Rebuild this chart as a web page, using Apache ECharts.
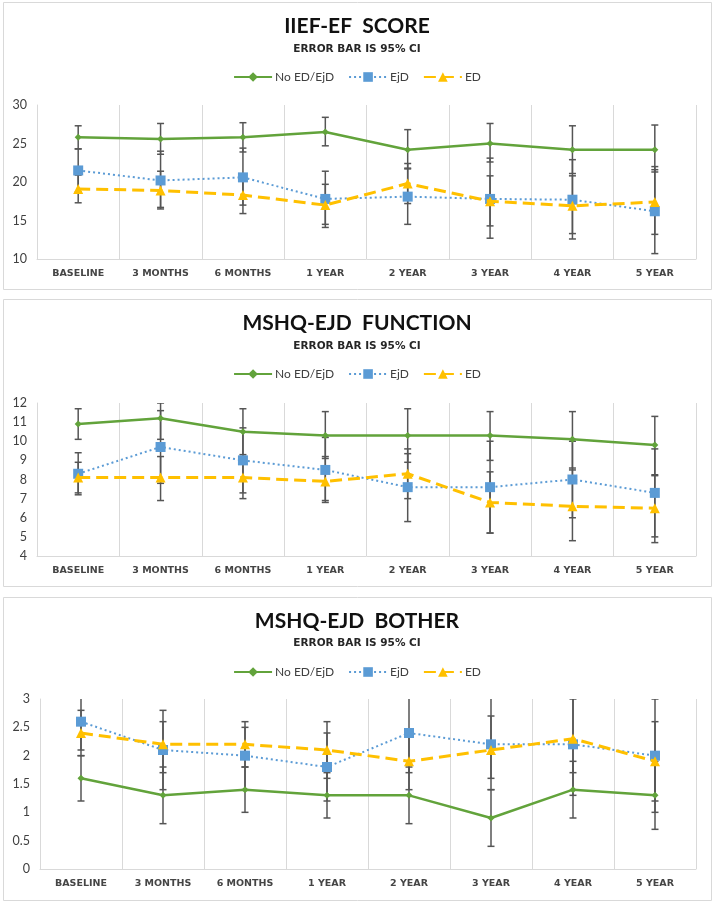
<!DOCTYPE html>
<html>
<head>
<meta charset="utf-8">
<script src="https://cdn.jsdelivr.net/npm/echarts@6/dist/echarts.min.js"></script>
<style>
  html, body { margin: 0; padding: 0; background: #ffffff; }
  #chart { width: 714px; height: 902px; }
</style>
</head>
<body>
<div id="chart"></div>
<script>
// ---------- DATA ----------
const categories = ['BASELINE', '3 MONTHS', '6 MONTHS', '1 YEAR', '2 YEAR', '3 YEAR', '4 YEAR', '5 YEAR'];
const seriesNames = ['No ED/EjD', 'EjD', 'ED'];
const panelTitles = ['IIEF-EF  SCORE', 'MSHQ-EJD  FUNCTION', 'MSHQ-EJD  BOTHER'];
const panelSubtitle = 'ERROR BAR IS 95% CI';

// IIEF-EF score
const iiefNoEdEjd    = [25.8, 25.6, 25.8, 26.5, 24.2, 25.0, 24.2, 24.2];
const iiefNoEdEjdLow = [24.3, 23.6, 23.9, 24.7, 21.8, 22.6, 21.1, 21.3];
const iiefNoEdEjdHigh= [27.3, 27.6, 27.7, 28.4, 26.8, 27.6, 27.3, 27.4];
const iiefEjd        = [21.5, 20.2, 20.6, 17.8, 18.1, 17.8, 17.7, 16.2];
const iiefEjdLow     = [18.7, 16.5, 17.0, 14.1, 14.5, 12.7, 12.6, 10.7];
const iiefEjdHigh    = [24.3, 24.0, 24.4, 21.4, 21.7, 23.1, 22.9, 21.6];
const iiefEd         = [19.1, 18.9, 18.3, 17.0, 19.8, 17.5, 16.9, 17.4];
const iiefEdLow      = [17.3, 16.7, 15.9, 14.5, 17.2, 14.3, 13.3, 13.2];
const iiefEdHigh     = [20.9, 21.4, 20.7, 19.7, 22.4, 20.8, 20.8, 22.0];

// MSHQ-EjD function
const fnNoEdEjd      = [10.9, 11.2, 10.5, 10.3, 10.3, 10.3, 10.1, 9.8];
const fnNoEdEjdLow   = [10.1, 10.1, 9.3, 9.1, 8.9, 9.0, 8.6, 8.25];
const fnNoEdEjdHigh  = [11.7, 12.0, 11.7, 11.55, 11.7, 11.55, 11.55, 11.3];
const fnEjd          = [8.3, 9.7, 9.0, 8.5, 7.6, 7.6, 8.0, 7.3];
const fnEjdLow       = [7.2, 7.8, 7.3, 6.8, 5.8, 5.2, 6.0, 5.0];
const fnEjdHigh      = [9.4, 11.6, 10.7, 10.2, 9.35, 10.0, 10.0, 9.6];
const fnEd           = [8.1, 8.1, 8.1, 7.9, 8.3, 6.8, 6.6, 6.5];
const fnEdLow        = [7.3, 6.9, 7.0, 6.9, 7.0, 5.2, 4.8, 4.7];
const fnEdHigh       = [8.9, 9.2, 9.2, 9.2, 9.6, 8.4, 8.5, 8.2];

// MSHQ-EjD bother
const boNoEdEjd      = [1.6, 1.3, 1.4, 1.3, 1.3, 0.9, 1.4, 1.3];
const boNoEdEjdLow   = [1.2, 0.8, 1.0, 0.9, 0.8, 0.4, 0.9, 0.7];
const boNoEdEjdHigh  = [2.0, 1.8, 1.8, 1.7, 1.8, 1.4, 1.9, 1.9];
const boEjd          = [2.6, 2.1, 2.0, 1.8, 2.4, 2.2, 2.2, 2.0];
const boEjdLow       = [2.1, 1.4, 1.4, 1.2, 1.7, 1.4, 1.3, 1.0];
const boEjdHigh      = [3.1, 2.8, 2.6, 2.4, 3.1, 3.1, 3.1, 3.0];
const boEd           = [2.4, 2.2, 2.2, 2.1, 1.9, 2.1, 2.3, 1.9];
const boEdLow        = [2.0, 1.7, 1.8, 1.6, 1.4, 1.6, 1.7, 1.2];
const boEdHigh       = [2.8, 2.6, 2.5, 2.6, 2.4, 2.7, 3.0, 2.6];

// axis ranges
const yMin = [10, 4, 0];
const yMax = [30, 12, 3];
const yInterval = [5, 1, 0.5];

// ---------- BUILD ----------
const panels = [
  { vals: [iiefNoEdEjd, iiefEjd, iiefEd], lows: [iiefNoEdEjdLow, iiefEjdLow, iiefEdLow], highs: [iiefNoEdEjdHigh, iiefEjdHigh, iiefEdHigh] },
  { vals: [fnNoEdEjd, fnEjd, fnEd], lows: [fnNoEdEjdLow, fnEjdLow, fnEdLow], highs: [fnNoEdEjdHigh, fnEjdHigh, fnEdHigh] },
  { vals: [boNoEdEjd, boEjd, boEd], lows: [boNoEdEjdLow, boEjdLow, boEdLow], highs: [boNoEdEjdHigh, boEjdHigh, boEdHigh] }
];

const layout = [
  { box: [3, 2, 708, 287], title: 16, sub: 44, legend: 71, grid: { left: 37, top: 105, width: 659, height: 154 } },
  { box: [3, 299, 708, 287], title: 313, sub: 341, legend: 368, grid: { left: 37, top: 403, width: 659, height: 153 } },
  { box: [3, 597, 708, 303], title: 611, sub: 638, legend: 666, grid: { left: 40, top: 699, width: 656, height: 170 } }
];

const lineStyles = [
  { color: '#62a33b', width: 2.5, type: 'solid', symbol: 'diamond', size: 7 },
  { color: '#5b9bd5', width: 2, type: [2, 3], symbol: 'rect', size: 10 },
  { color: '#ffc000', width: 3, type: [12, 6], symbol: 'triangle', size: 10 }
];

function renderErr(params, api) {
  const x = api.value(0);
  const pLo = api.coord([x, api.value(1)]);
  const pHi = api.coord([x, api.value(2)]);
  const w = 3.5;
  const st = { stroke: '#555555', lineWidth: 1.5 };
  return {
    type: 'group',
    children: [
      { type: 'line', shape: { x1: pLo[0], y1: pLo[1], x2: pHi[0], y2: pHi[1] }, style: st },
      { type: 'line', shape: { x1: pLo[0] - w, y1: pLo[1], x2: pLo[0] + w, y2: pLo[1] }, style: st },
      { type: 'line', shape: { x1: pHi[0] - w, y1: pHi[1], x2: pHi[0] + w, y2: pHi[1] }, style: st }
    ]
  };
}

const titles = [], legends = [], grids = [], xAxes = [], yAxes = [], series = [], graphics = [];
const FONT = 'Lato, "Open Sans", sans-serif';

panels.forEach((p, i) => {
  const L = layout[i];
  graphics.push({
    type: 'rect', silent: true, z: -10,
    shape: { x: L.box[0] + 0.5, y: L.box[1] + 0.5, width: L.box[2], height: L.box[3] },
    style: { fill: '#ffffff', stroke: '#d9d9d9', lineWidth: 1 }
  });
  titles.push({
    text: panelTitles[i], left: 'center', top: L.title, padding: 0,
    textStyle: { fontFamily: FONT, fontSize: 21, fontWeight: 'bold', color: '#111111' }
  });
  titles.push({
    text: panelSubtitle, left: 'center', top: L.sub, padding: 0,
    textStyle: { fontFamily: '"DejaVu Sans", sans-serif', fontSize: 10.5, fontWeight: 'bold', color: '#262626' }
  });
  legends.push({
    data: seriesNames, left: 'center', top: L.legend, padding: 0,
    itemWidth: 38, itemHeight: 12, itemGap: 14,
    selectedMode: false,
    textStyle: { fontFamily: FONT, fontSize: 12, color: '#404040', padding: [0, 0, 0, -2] }
  });
  grids.push(Object.assign({ containLabel: false }, L.grid));
  xAxes.push({
    type: 'category', gridIndex: i, data: categories, boundaryGap: true,
    axisLine: { show: true, lineStyle: { color: '#d9d9d9', width: 1 } },
    axisTick: { show: false },
    splitLine: { show: true, lineStyle: { color: '#d9d9d9', width: 1 } },
    axisLabel: { fontFamily: '"DejaVu Sans", sans-serif', fontSize: 9.5, fontWeight: 'bold', color: '#454545', margin: 10 }
  });
  yAxes.push({
    type: 'value', gridIndex: i, min: yMin[i], max: yMax[i], interval: yInterval[i],
    axisLine: { show: true, lineStyle: { color: '#d9d9d9', width: 1 } },
    axisTick: { show: false },
    splitLine: { show: false },
    axisLabel: { fontFamily: FONT, fontSize: 12.5, color: '#404040', margin: 10 }
  });
  // error bars first (drawn underneath)
  p.vals.forEach((v, s) => {
    series.push({
      type: 'custom', name: 'ci-' + i + '-' + s, xAxisIndex: i, yAxisIndex: i,
      renderItem: renderErr, clip: true, z: 1, silent: true,
      data: categories.map((c, k) => [k, p.lows[s][k], p.highs[s][k]])
    });
  });
  p.vals.forEach((v, s) => {
    const ls = lineStyles[s];
    series.push({
      type: 'line', name: seriesNames[s], xAxisIndex: i, yAxisIndex: i,
      data: v, symbol: ls.symbol, symbolSize: ls.size, showSymbol: true,
      lineStyle: { color: ls.color, width: ls.width, type: ls.type },
      itemStyle: { color: ls.color, borderWidth: 0 },
      z: 3 + s, animation: false
    });
  });
});

const chart = echarts.init(document.getElementById('chart'), null, { renderer: 'canvas' });
chart.setOption({
  backgroundColor: '#ffffff',
  animation: false,
  title: titles,
  legend: legends,
  grid: grids,
  xAxis: xAxes,
  yAxis: yAxes,
  series: series,
  graphic: graphics
});
</script>
</body>
</html>
